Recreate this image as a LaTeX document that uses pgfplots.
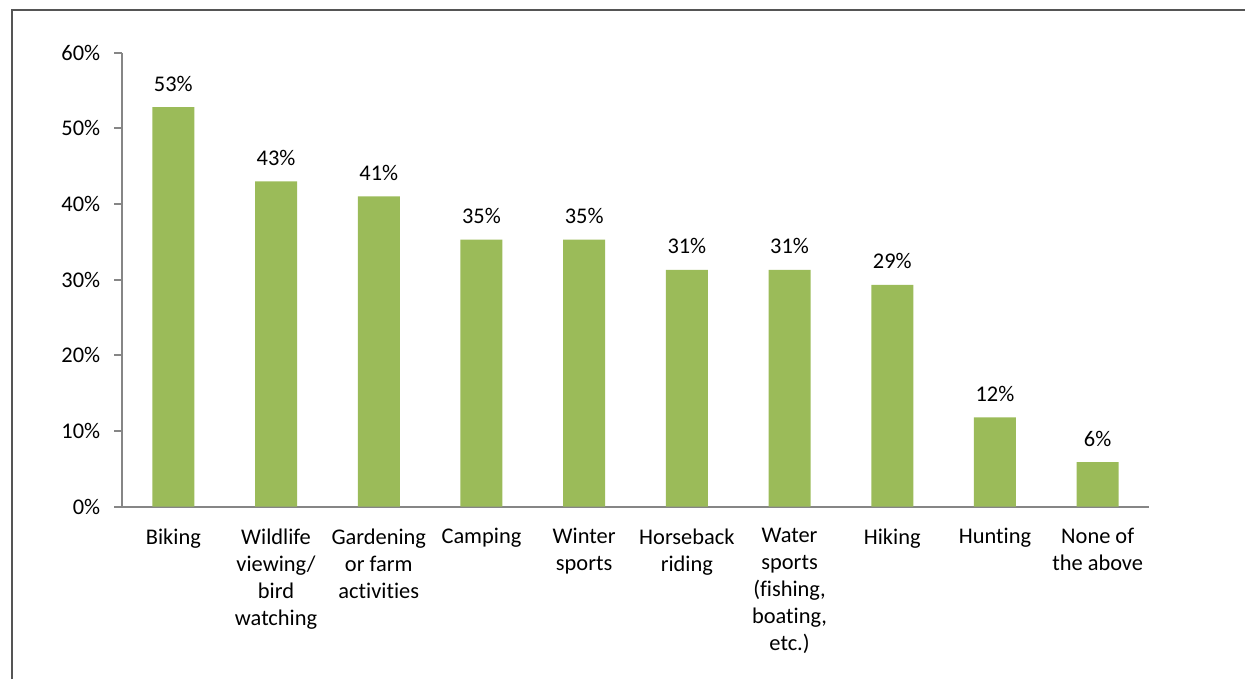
\documentclass[border=0pt]{standalone}
\usepackage{pgfplots}
\pgfplotsset{compat=1.18}
\usepackage{fontspec}
\setmainfont[Ligatures={NoCommon}]{Carlito}
\definecolor{bargreen}{HTML}{9BBB59}
\definecolor{axgray}{HTML}{868686}
\definecolor{framegray}{HTML}{555555}
\begin{document}
\fontsize{11.2pt}{13.5pt}\selectfont
\begin{tikzpicture}
\path[use as bounding box] (0,0) rectangle (622.5pt,339.5pt);
\draw[framegray, line width=0.8pt] (5.85pt,0) -- (5.85pt,334.5pt) -- (622.5pt,334.5pt);
\begin{axis}[
  at={(61pt,86.15pt)}, anchor=south west,
  scale only axis, width=513.5pt, height=227pt,
  xmin=-0.5, xmax=9.5, ymin=0, ymax=60,
  axis x line*=bottom, axis y line*=left,
  axis line style={axgray, line width=0.9pt, -},
  ytick={0,10,...,60},
  yticklabel={\pgfmathprintnumber{\tick}\%},
  /pgf/number format/assume math mode=true,
  ytick style={axgray, line width=0.9pt},
  tick align=outside, major tick length=4pt,
  yticklabel style={xshift=-3pt},
  xtick={0,...,9},
  xtick style={draw=none},
  xticklabels={Biking, {Wildlife\\viewing/\\bird\\watching}, {Gardening\\or farm\\activities}, Camping, {Winter\\sports}, {Horseback\\riding}, {Water\\sports\\(fishing,\\boating,\\etc.)}, Hiking, Hunting, {None of\\the above}},
  xticklabel style={align=center, anchor=north, yshift=-3pt, font=\fontsize{11.2pt}{13.5pt}\selectfont},
  ticklabel style={font=\fontsize{11.2pt}{13.5pt}\selectfont},
  every tick label/.append style={text=black},
  ybar, bar width=21pt,
  nodes near coords={\pgfmathprintnumber[fixed,precision=0]{\pgfplotspointmeta}\%},
  nodes near coords style={font=\fontsize{11.2pt}{13.5pt}\selectfont, yshift=4pt},
  point meta=y,
  clip=false,
]
\addplot[fill=bargreen, draw=none] coordinates {
(0,52.8) (1,43.0) (2,41.0) (3,35.3) (4,35.3) (5,31.3) (6,31.3) (7,29.3) (8,11.8) (9,5.9)};
\end{axis}
\end{tikzpicture}
\end{document}
